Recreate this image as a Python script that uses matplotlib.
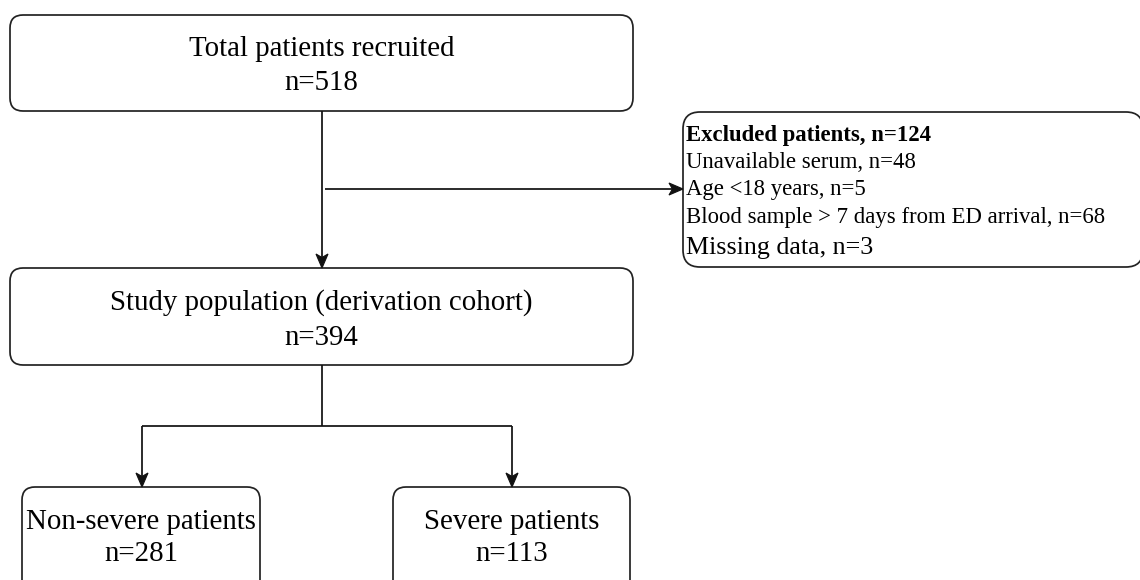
import matplotlib.pyplot as plt
from matplotlib.patches import FancyBboxPatch, Polygon

# box texts and counts
main_labels = ['Total patients recruited', 'Study population (derivation cohort)']
main_counts = [518, 394]
group_labels = ['Non-severe patients', 'Severe patients']
group_counts = [281, 113]
excl_title = 'Excluded patients'
excl_total = 124
excl_reasons = ['Unavailable serum', 'Age <18 years',
                'Blood sample > 7 days from ED arrival', 'Missing data']
excl_counts = [48, 5, 68, 3]

plt.rcParams['font.family'] = ['Liberation Serif', 'DejaVu Serif']
LC = '#111111'
LW = 1.25

fig = plt.figure(figsize=(11.4, 5.8), dpi=100)
ax = fig.add_axes([0, 0, 1, 1])
ax.set_xlim(0, 1140)
ax.set_ylim(580, 0)
ax.axis('off')


def box(x0, y0, x1, y1, r=13):
    p = FancyBboxPatch((x0, y0), x1 - x0, y1 - y0,
                       boxstyle=f'round,pad=0,rounding_size={r}',
                       fc='white', ec='#222222', lw=LW, clip_on=False)
    ax.add_patch(p)


def line(xs, ys):
    ax.plot(xs, ys, color=LC, lw=LW, solid_capstyle='butt')


def arrow(x0, y0, x1, y1, L=14, W=6, notch=3.5):
    # line plus a notched (stealth-like) head ending at (x1, y1)
    dx, dy = x1 - x0, y1 - y0
    d = (dx ** 2 + dy ** 2) ** 0.5
    ux, uy = dx / d, dy / d
    px, py = -uy, ux
    bx, by = x1 - ux * L, y1 - uy * L
    line([x0, bx + ux * notch], [y0, by + uy * notch])
    head = [(x1, y1), (bx + px * W, by + py * W),
            (bx + ux * notch, by + uy * notch), (bx - px * W, by - py * W)]
    ax.add_patch(Polygon(head, closed=True, fc=LC, ec=LC, lw=0.8))


fs = 20.8
off = 3
# main boxes
main_geo = [(10, 15, 633, 111, 46, 80), (10, 268, 633, 365, 300, 335)]
for (x0, y0, x1, y1, t1, t2), lab, n in zip(main_geo, main_labels, main_counts):
    box(x0, y0, x1, y1)
    cx = (x0 + x1) / 2
    ax.text(cx, t1 + off, lab, ha='center', va='center', fontsize=fs)
    ax.text(cx, t2 + off, f'n={n}', ha='center', va='center', fontsize=fs)

# group boxes
group_geo = [(22, 260), (393, 630)]
for (x0, x1), lab, n in zip(group_geo, group_labels, group_counts):
    box(x0, 487, x1, 600)
    cx = (x0 + x1) / 2
    ax.text(cx, 519 + off, lab, ha='center', va='center', fontsize=fs)
    ax.text(cx, 551 + off, f'n={n}', ha='center', va='center', fontsize=fs)

# excluded box
box(683, 112, 1143, 267, r=17)
ax.text(686, 135, f'{excl_title}, n={excl_total}', ha='left', va='center',
        fontsize=16.4, fontweight='bold')
ys = [162, 189, 217, 248]
for i, (lab, n, y) in enumerate(zip(excl_reasons, excl_counts, ys)):
    size = 18.7 if i == len(excl_reasons) - 1 else 16.4
    ax.text(686, y, f'{lab}, n={n}', ha='left', va='center', fontsize=size)

# connectors
arrow(322, 111, 322, 268)
arrow(325, 189, 683, 189)
line([322, 322], [365, 426])
line([142, 512], [426, 426])
arrow(142, 426, 142, 487)
arrow(512, 426, 512, 487)

fig.savefig('out.png', dpi=100)
